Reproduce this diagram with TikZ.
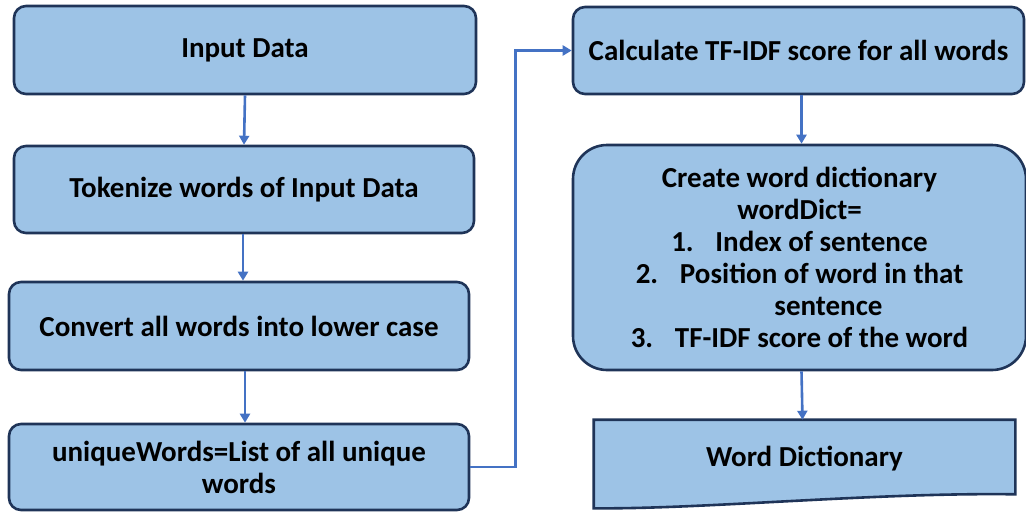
\documentclass[tikz,border=0pt]{standalone}
\usepackage{fontspec}
\setmainfont{Carlito}
\usetikzlibrary{arrows.meta,calc}
\definecolor{boxfill}{HTML}{9DC3E6}
\definecolor{boxline}{HTML}{1F3458}
\definecolor{arrowc}{HTML}{4472C4}
\begin{document}
\begin{tikzpicture}[x=1pt,y=-1pt,
  box/.style={draw=boxline,fill=boxfill,line width=2.6pt,rounded corners=12pt,
    align=center,font=\fontsize{29}{32}\selectfont\bfseries,inner sep=0pt},
  conn/.style={draw=arrowc,line width=2.6pt,-{Triangle[length=9pt,width=10pt]}}]
\useasboundingbox (0,0) rectangle (1026,512);
\node[box,minimum width=462pt,minimum height=88pt] (b1) at (245,50) {Input Data};
\node[box,minimum width=460pt,minimum height=87pt] (b2) at (244,189.5) {Tokenize words of Input Data};
\node[box,minimum width=460pt,minimum height=88pt] (b3) at (239,326) {Convert all words into lower case};
\node[box,minimum width=460pt,minimum height=86pt] (b4) at (239,467) {uniqueWords=List of all unique\\words};
\node[box,minimum width=451pt,minimum height=87pt] (b5) at (798.5,50.5) {Calculate TF-IDF score for all words};
\node[box,rounded corners=34pt,minimum width=453pt,minimum height=225pt] (b6) at (799.5,257.5)
  {Create word dictionary\\
   wordDict=\\
   1.\hspace{0.75em}Index of sentence\\
   2.\hspace{0.75em}Position of word in that\\
   \hspace*{2em}sentence\\
   3.\hspace{0.75em}TF-IDF score of the word};
\node[box,draw=none,fill=none,rounded corners=0pt,minimum width=419pt,minimum height=76pt] (b7) at (804.5,459) {};
\fill[boxfill] (b7.north west) -- (b7.north east) -- ($(b7.south east)+(0,-4)$)
  .. controls ($(b7.south east)+(-140,-6)$) and ($(b7.south west)+(110,11)$) .. ($(b7.south west)+(0,10)$) -- cycle;
\draw[boxline,line width=2.6pt,line join=miter] (b7.north west) -- (b7.north east) -- ($(b7.south east)+(0,-4)$)
  .. controls ($(b7.south east)+(-140,-6)$) and ($(b7.south west)+(110,11)$) .. ($(b7.south west)+(0,10)$) -- cycle;
\node[font=\fontsize{29}{32}\selectfont\bfseries,inner sep=0pt] (t7) at (b7.center) {Word Dictionary};
\draw[conn] (b1.south) -- (b2.north);
\draw[conn] ($(b2.south)+(-1,0)$) -- ($(b3.north)+(4,0)$) ;
\draw[conn] ($(b3.south)+(6,0)$) -- ($(b4.north)+(6,0)$);
\draw[conn] (b4.east) -- ++(45,0) |- (b5.west);
\draw[conn] ($(b5.south)+(3,0)$) -- ($(b6.north)+(2,0)$);
\draw[conn] ($(b6.south)+(2,0)$) -- ($(b7.north)+(-2,0)$);
\end{tikzpicture}
\end{document}
